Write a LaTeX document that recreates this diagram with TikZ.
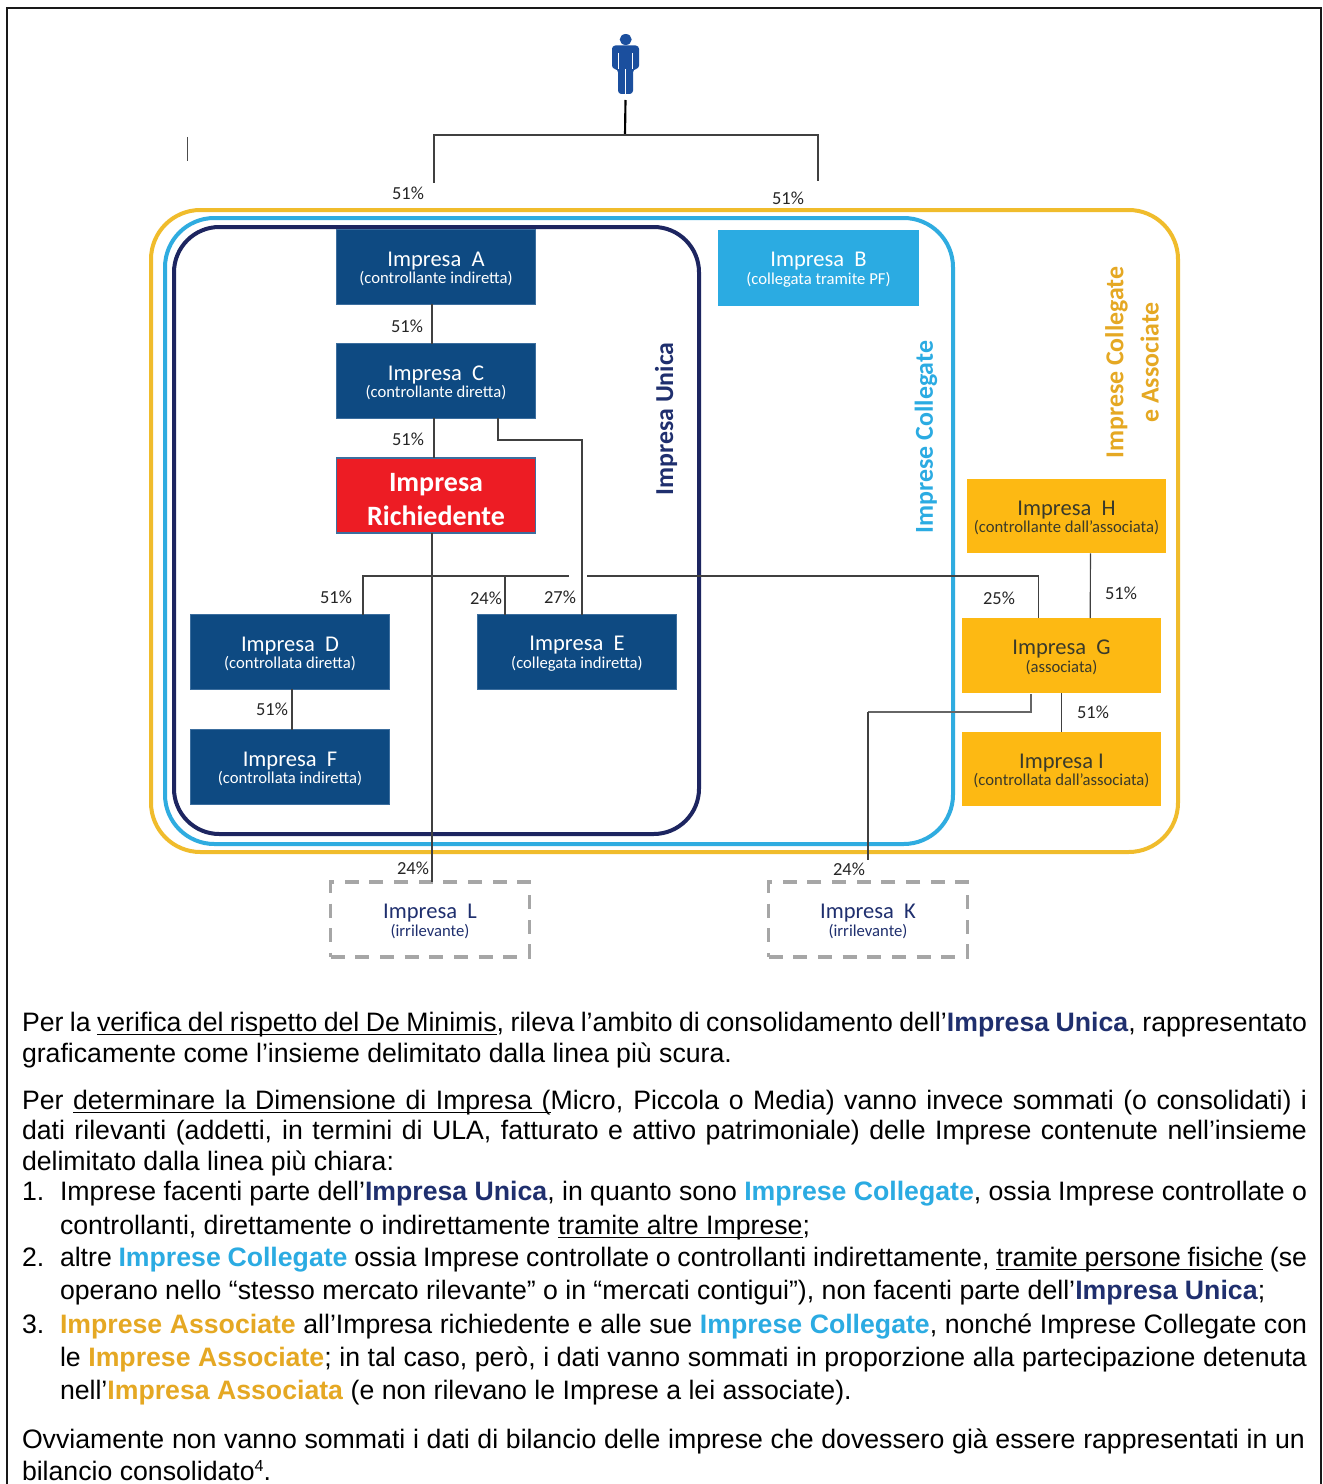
\documentclass[tikz,border=0pt]{standalone}
\usepackage{fontspec}
\setmainfont{Liberation Sans}
\newfontfamily\boxfont{Carlito}
\definecolor{navyline}{HTML}{1D2560}
\definecolor{blueline}{HTML}{2FACE0}
\definecolor{goldline}{HTML}{F0BC2C}
\definecolor{boxblue}{HTML}{0E4A82}
\definecolor{boxedge}{HTML}{3C6E9E}
\definecolor{boxred}{HTML}{ED1C24}
\definecolor{boxcyan}{HTML}{2BABE2}
\definecolor{boxgold}{HTML}{FDB913}
\definecolor{inkdark}{HTML}{3A3A2A}
\definecolor{navytext}{HTML}{1F2F6E}
\definecolor{goldtext}{HTML}{E5A823}
\definecolor{connector}{HTML}{404040}
\definecolor{persona}{HTML}{1B4F9E}
\newcommand\bU[1]{\textcolor{navytext}{\textbf{#1}}}
\newcommand\bC[1]{\textcolor{boxcyan}{\textbf{#1}}}
\newcommand\bA[1]{\textcolor{goldtext}{\textbf{#1}}}
\newcommand\uw[1]{\setbox0\hbox{#1}\rlap{\rule[-2.9pt]{\wd0}{1pt}}\box0\relax}
\newcommand\us{\leaders\hrule height -1.9pt depth 2.9pt\hskip\fontdimen2\font plus \fontdimen3\font minus \fontdimen4\font\relax}
\def\uline#1{\ulwalk#1 \ulend}
\def\ulwalk#1 #2\ulend{\uw{#1}\if\relax\detokenize{#2}\relax\else\us\ulwalk#2\ulend\fi}
\newcommand\boxtext[3]{{\boxfont\fontsize{#3}{#3}\selectfont\rule{0pt}{13.5pt}#1}\\[1.2pt]{\boxfont\fontsize{12.5pt}{14pt}\selectfont #2}}
\newcommand\lowered[1]{\smash{\raisebox{-9.6pt}{#1}}}
\newcommand\fullline[3]{\node[bodyline] (#1) at (\ifdim#2pt<1180pt 22\else 60\fi,#2) {\makebox[\ifdim#2pt<1180pt 963.75pt\else 935.25pt\fi][s]{#3}};}
\newcommand\freeline[4]{\node[bodyline] (#1) at (#2,#3) {#4};}
\tikzset{
  frameline/.style={rounded corners=#1,line width=3pt},
  bodyline/.style={anchor=base west,inner sep=0pt,outer sep=0pt,yshift=-1.2pt,font=\fontsize{20pt}{23pt}\selectfont},
  company/.style={minimum width=149pt,minimum height=56pt,inner sep=0pt,outer sep=0pt,align=center,line width=1.2pt},
  bluebox/.style={company,fill=boxblue,draw=boxedge,text=white},
  redbox/.style={company,fill=boxred,draw=boxedge,text=white,font=\boxfont\bfseries\fontsize{21pt}{25.4pt}\selectfont},
  cyanbox/.style={company,fill=boxcyan,draw=boxcyan,text=white},
  goldbox/.style={company,fill=boxgold,text=inkdark},
  irrbox/.style={company,draw=black!35,line width=2.6pt,dash pattern=on 10.5pt off 8pt,text=navytext},
  link/.style={draw=connector,line width=0.85pt},
  pct/.style={inner sep=0pt,font=\boxfont\fontsize{13.8pt}{14pt}\selectfont,text=black!85},
  ringlabel/.style={rotate=90,inner sep=0pt,align=center,font=\boxfont\bfseries\fontsize{19.4pt}{26.5pt}\selectfont}
}
\begin{document}
\begin{tikzpicture}[x=0.75pt,y=-0.75pt]
\useasboundingbox (0,0) rectangle (1322,1484);
\fill[white] (0,0) rectangle (1322,1484);
% outer frame
\draw[black!90,line width=1.6pt] (7,1500) -- (7,8) -- (1321,8) -- (1321,1500);
\draw[black!70,line width=0.6pt] (187,137) -- (187,161);
% rings
\draw[goldline,frameline=37pt] (151,210) rectangle (1178,852);
\draw[blueline,frameline=37pt] (165,218) rectangle (953,844);
\draw[navyline,frameline=34pt] (174,227) rectangle (699,834);
% person
\fill[persona] (625.7,39.5) ellipse (6 and 5.5);
\fill[persona,rounded corners=2.5pt] (612,69) -- (612,45.5) -- (639,45.5) -- (639,69) -- (633,69) -- (633,94) -- (618,94) -- (618,69) -- cycle;
\draw[white,line width=0.7pt] (618.5,53) -- (618.5,69) (632.5,53) -- (632.5,69) (625.5,69) -- (625.5,95);
% boxes
\node[bluebox] (A) at (436,267) {\boxtext{Impresa\ \ A}{(controllante indiretta)}{16.9pt}};
\node[bluebox] (C) at (436,381) {\boxtext{Impresa\ \ C}{(controllante diretta)}{16.9pt}};
\node[redbox] (R) at (436,495.5) {\lowered{Impresa}\\\lowered{Richiedente}};
\node[cyanbox] (B) at (818.5,268) {\boxtext{Impresa\ \ B}{(collegata tramite PF)}{16.9pt}};
\node[bluebox] (D) at (290,652) {\boxtext{Impresa\ \ D}{(controllata diretta)}{16.9pt}};
\node[bluebox] (E) at (577,652) {\boxtext{Impresa\ \ E}{(collegata indiretta)}{16.9pt}};
\node[bluebox] (F) at (290,767) {\boxtext{Impresa\ \ F}{(controllata indiretta)}{16.9pt}};
\node[goldbox] (H) at (1066.5,516) {\boxtext{Impresa\ \ H}{(controllante dall’associata)}{16.9pt}};
\node[goldbox] (G) at (1061.5,655.5) {\boxtext{Impresa\ \ G}{(associata)}{16.9pt}};
\node[goldbox] (I) at (1061.5,769) {\boxtext{Impresa I}{(controllata dall’associata)}{16.9pt}};
\node[irrbox] (L) at (430,919.5) {\boxtext{Impresa\ \ L}{(irrilevante)}{16.9pt}};
\node[irrbox] (K) at (868,919.5) {\boxtext{Impresa\ \ K}{(irrilevante)}{16.9pt}};
% connectors
\coordinate (top) at (625,135);
\coordinate (Bdrop) at (818,181);
\coordinate (Adrop) at (434,183);
\draw[black,line width=1.6pt] (625.5,100) -- (top);
\draw[link] (Adrop) |- (top) -| (Bdrop);
\draw[link] ([xshift=-3pt]A.south) -- ([xshift=-3pt]C.north);
\draw[link] ([xshift=-1.5pt]C.south) -- ([xshift=-1.5pt]R.north);
\draw[link] ([xshift=46.5pt]C.south) |- (582,440) -- ([xshift=3.75pt]E.north);
\draw[link] ([xshift=-3pt]R.south) -- ([xshift=1.5pt]L.north);
\draw[link] ([xshift=54.75pt]D.north) |- (569,576);
\draw[link] ([xshift=-54pt]E.north) -- (505,576);
\coordinate (gapR) at (587,576);
\draw[link] (gapR) -| ([xshift=-17pt]G.north);
\draw[link] ([xshift=18pt]H.south) -- ([xshift=21.5pt]G.north);
\draw[link] (G.south) -- (I.north);
\coordinate (Kfree) at (868,860);
\draw[link,draw=black!60,line width=1.2pt] ([xshift=-23pt,yshift=-1pt]G.south) |- (Kfree |- 0,712);
\draw[link] (Kfree |- 0,712) -- (Kfree);
\draw[link] (D.south -| 292,0) -- (F.north -| 292,0);
% percent labels
\node[pct] (p1) at (408,193) {51\%};
\node[pct] (p2) at (788,198) {51\%};
\node[pct] (p3) at (407,326) {51\%};
\node[pct] (p4) at (408,439) {51\%};
\node[pct] (p5) at (336,597) {51\%};
\node[pct] (p6) at (486,598) {24\%};
\node[pct] (p7) at (560,597) {27\%};
\node[pct] (p8) at (999,598) {25\%};
\node[pct] (p9) at (1121,593) {51\%};
\node[pct] (p10) at (1093,712) {51\%};
\node[pct] (p11) at (272,709) {51\%};
\node[pct] (p12) at (413,868) {24\%};
\node[pct] (p13) at (849,869) {24\%};
% ring labels
\node[ringlabel,text=navytext] (lu) at (666,419) {Impresa Unica};
\node[ringlabel,text=boxcyan] (lc) at (926,437) {Imprese Collegate};
\node[ringlabel,text=goldtext] (la) at (1132,362.5) {Imprese Collegate\\e Associate};
% text
\fullline{t1}{1030}{Per la \uline{verifica del rispetto del De Minimis}, rileva l’ambito di consolidamento dell’\bU{Impresa Unica}, rappresentato}
\freeline{t2}{22}{1061}{graficamente come l’insieme delimitato dalla linea più scura.}
\fullline{t3}{1108}{Per \uline{determinare la Dimensione di Impresa (}Micro, Piccola o Media) vanno invece sommati (o consolidati) i}
\fullline{t4}{1138}{dati rilevanti (addetti, in termini di ULA, fatturato e attivo patrimoniale) delle Imprese contenute nell’insieme}
\freeline{t5}{22}{1169}{delimitato dalla linea più chiara:}
\freeline{n1}{22}{1199}{1.}
\fullline{t6}{1199}{Imprese facenti parte dell’\bU{Impresa Unica}, in quanto sono \bC{Imprese Collegate}, ossia Imprese controllate o}
\freeline{t7}{60}{1233}{controllanti, direttamente o indirettamente \uline{tramite altre Imprese};}
\freeline{n2}{22}{1265}{2.}
\fullline{t8}{1265}{altre \bC{Imprese Collegate} ossia Imprese controllate o controllanti indirettamente, \uline{tramite persone fisiche} (se}
\freeline{t9}{60}{1298}{operano nello “stesso mercato rilevante” o in “mercati contigui”), non facenti parte dell’\bU{Impresa Unica};}
\freeline{n3}{22}{1332}{3.}
\fullline{t10}{1332}{\bA{Imprese Associate} all’Impresa richiedente e alle sue \bC{Imprese Collegate}, nonché Imprese Collegate con}
\fullline{t11}{1365}{le \bA{Imprese Associate}; in tal caso, però, i dati vanno sommati in proporzione alla partecipazione detenuta}
\freeline{t12}{60}{1398}{nell’\bA{Impresa Associata} (e non rilevano le Imprese a lei associate).}
\node[bodyline] (t13) at (22,1447) {\makebox[962.25pt][s]{Ovviamente non vanno sommati i dati di bilancio delle imprese che dovessero già essere rappresentati in un}};
\freeline{t14}{22}{1479}{bilancio consolidato\raisebox{7pt}{\fontsize{12pt}{12pt}\selectfont 4}.}
\end{tikzpicture}
\end{document}
